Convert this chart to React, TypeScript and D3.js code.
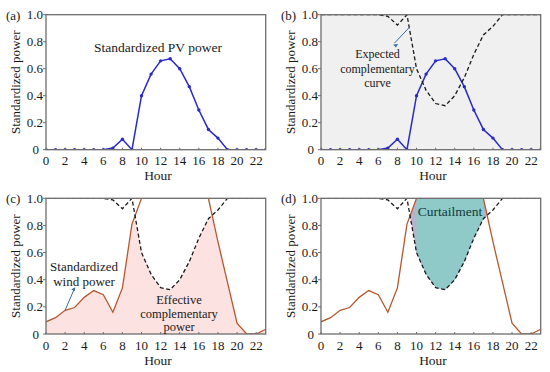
import React from "react";
import * as d3 from "d3";

const HOURS = d3.range(0, 24);
const PV = [0, 0, 0, 0, 0, 0, 0, 0.012, 0.077, 0, 0.4, 0.56, 0.658, 0.674, 0.6, 0.467, 0.294, 0.15, 0.086, 0, 0, 0, 0, 0];
const EXPECTED = [1, 1, 1, 1, 1, 1, 1, 0.988, 0.923, 1, 0.6, 0.44, 0.342, 0.326, 0.4, 0.533, 0.706, 0.85, 0.914, 1, 1, 1, 1, 1];
const WIND = [0.09, 0.12, 0.175, 0.195, 0.27, 0.32, 0.29, 0.16, 0.34, 0.81, 1.0, 1.0, 1.0, 1.0, 1.0, 1.0, 1.0, 1.0, 0.68, 0.38, 0.08, 0, 0, 0.035];
const CURTAIL_HOURS = [10, 11, 12, 13, 14, 15, 16, 17];
const X_TICKS = [0, 2, 4, 6, 8, 10, 12, 14, 16, 18, 20, 22];
const Y_TICKS = [0, 0.2, 0.4, 0.6, 0.8, 1.0];
const Y_TICK_LABELS = ["0", "0.2", "0.4", "0.6", "0.8", "1.0"];
const PANEL_LABELS = ["(a)", "(b)", "(c)", "(d)"];

const FONT = "Liberation Serif, Times New Roman, DejaVu Serif, serif";
const BLUE = "#2a2ac8";
const BROWN = "#b4582f";
const FRAME = "#6e6e6e";

type Pt = { h: number; w: number; e: number };

function mergeCurves(): Pt[] {
  const pts: Pt[] = [];
  for (let i = 0; i < HOURS.length; i++) {
    pts.push({ h: HOURS[i], w: WIND[i], e: EXPECTED[i] });
    if (i < HOURS.length - 1) {
      const d0 = WIND[i] - EXPECTED[i];
      const d1 = WIND[i + 1] - EXPECTED[i + 1];
      if (d0 * d1 < 0) {
        const t = d0 / (d0 - d1);
        pts.push({
          h: HOURS[i] + t * (HOURS[i + 1] - HOURS[i]),
          w: WIND[i] + t * (WIND[i + 1] - WIND[i]),
          e: EXPECTED[i] + t * (EXPECTED[i + 1] - EXPECTED[i]),
        });
      }
    }
  }
  return pts;
}

function T(props: any) {
  const { children, style, ...rest } = props;
  return (
    <text fill="#1a1a1a" {...rest} style={{ fontFamily: FONT, ...(style || {}) }}>
      {children}
    </text>
  );
}

function Panel({ idx, dx, dy, top, bottom }: { idx: number; dx: number; dy: number; top: number; bottom: number }) {
  const left = 46;
  const right = 265.7;
  const x = d3.scaleLinear().domain([0, 23]).range([left, right]);
  const y = d3.scaleLinear().domain([0, 1]).range([bottom, top]);
  const clipId = `clip${idx}`;
  const line = d3.line<number>().x((_, i) => x(HOURS[i])).y((v) => y(v));
  const merged = mergeCurves();
  const effArea = d3
    .area<Pt>()
    .x((p) => x(p.h))
    .y0(y(0))
    .y1((p) => y(Math.min(p.w, p.e)));
  const curtArea = d3
    .area<Pt>()
    .x((p) => x(p.h))
    .y0((p) => y(p.e))
    .y1((p) => y(Math.max(p.e, Math.min(p.w, 1))));
  const tealArea = d3
    .area<number>()
    .x((h) => x(h))
    .y0((h) => y(EXPECTED[h]))
    .y1(() => y(1));

  const showPV = idx <= 1;
  const showExp = idx >= 1;
  const showWind = idx >= 2;
  const midY = (top + bottom) / 2;

  return (
    <g transform={`translate(${dx},${dy})`}>
      <defs>
        <clipPath id={clipId}>
          <rect x={left} y={top} width={right - left} height={bottom - top} />
        </clipPath>
      </defs>
      {idx === 1 && <rect x={left} y={top} width={right - left} height={bottom - top} fill="#eff0ef" />}
      <g clipPath={`url(#${clipId})`}>
        {idx === 2 && <path d={effArea(merged) || ""} fill="#fde2e2" />}
        {idx === 3 && <path d={curtArea(merged) || ""} fill="#b7b3cc" />}
        {idx === 3 && <path d={tealArea(CURTAIL_HOURS) || ""} fill="#8fcac8" />}
        {showPV && <path d={line(PV) || ""} fill="none" stroke={BLUE} strokeWidth={1.5} />}
        {showPV &&
          PV.map((v, i) => <circle key={i} cx={x(HOURS[i])} cy={y(v)} r={1.7} fill={BLUE} />)}
        {showWind && <path d={line(WIND) || ""} fill="none" stroke={BROWN} strokeWidth={1.3} />}
        {showExp && (
          <path d={line(EXPECTED) || ""} fill="none" stroke="#1a1a1a" strokeWidth={1.3} strokeDasharray="4,2.5" />
        )}
      </g>
      <rect x={left} y={top} width={right - left} height={bottom - top} fill="none" stroke={FRAME} strokeWidth={1.3} />
      {Y_TICKS.map((t, i) => (
        <g key={i}>
          <line x1={left - 3} x2={left} y1={y(t)} y2={y(t)} stroke={FRAME} strokeWidth={1} />
          <T x={t === 0 ? left - 7 : left - 3} y={y(t) + 4.5} textAnchor="end" fontSize={13}>
            {Y_TICK_LABELS[i]}
          </T>
        </g>
      ))}
      {X_TICKS.map((t) => (
        <g key={t}>
          <line x1={x(t)} x2={x(t)} y1={bottom} y2={bottom - 2} stroke={FRAME} strokeWidth={1} />
          <T x={x(t)} y={bottom + 15.5} textAnchor="middle" fontSize={13}>
            {t}
          </T>
        </g>
      ))}
      <T x={158} y={bottom + 30.5} textAnchor="middle" fontSize={13.5}>
        Hour
      </T>
      <T transform={`translate(20,${midY}) rotate(-90)`} textAnchor="middle" fontSize={13}>
        Standardized power
      </T>
      <T x={6} y={top + 5} fontSize={13}>
        {PANEL_LABELS[idx]}
      </T>
      {idx === 0 && (
        <T x={158} y={51.5} textAnchor="middle" fontSize={13.5}>
          Standardized PV power
        </T>
      )}
      {idx === 1 && (
        <g>
          <line x1={x(9.3)} y1={y(0.91)} x2={x(7.7)} y2={y(0.79)} stroke="#3a6ea5" strokeWidth={1} />
          <path d={`M${x(7.55)},${y(0.78)} l5,-0.5 l-2.2,3.6 z`} fill="#3a6ea5" />
          <T textAnchor="middle" fontSize={12}>
            <tspan x={102.5} y={58}>Expected</tspan>
            <tspan x={102.5} y={72.5}>complementary</tspan>
            <tspan x={102.5} y={86.5}>curve</tspan>
          </T>
        </g>
      )}
      {idx === 2 && (
        <g>
          <line x1={x(2)} y1={y(0.175)} x2={x(2.95)} y2={y(0.33)} stroke="#3a6ea5" strokeWidth={1} />
          <path d={`M${x(3.05)},${y(0.345)} l-4,2.2 l3.8,1.6 z`} fill="#3a6ea5" />
          <T textAnchor="middle" fontSize={13}>
            <tspan x={84} y={85}>Standardized</tspan>
            <tspan x={84} y={99.5}>wind power</tspan>
          </T>
          <T textAnchor="middle" fontSize={12.5}>
            <tspan x={179} y={117.5}>Effective</tspan>
            <tspan x={179} y={131.5}>complementary</tspan>
            <tspan x={179} y={144.5}>power</tspan>
          </T>
        </g>
      )}
      {idx === 3 && (
        <T x={175} y={30} textAnchor="middle" fontSize={13.5} fill="#0d3a3a">
          Curtailment
        </T>
      )}
    </g>
  );
}

export default function App() {
  return (
    <svg width={550} height={372} style={{ position: "absolute", left: 0, top: 0, background: "#fff" }}>
      <rect width={550} height={372} fill="#fff" />
      <Panel idx={0} dx={0} dy={0} top={14.7} bottom={149.7} />
      <Panel idx={1} dx={275} dy={0} top={14.7} bottom={149.7} />
      <Panel idx={2} dx={0} dy={186} top={12.3} bottom={148} />
      <Panel idx={3} dx={275} dy={186} top={12.3} bottom={148} />
    </svg>
  );
}
